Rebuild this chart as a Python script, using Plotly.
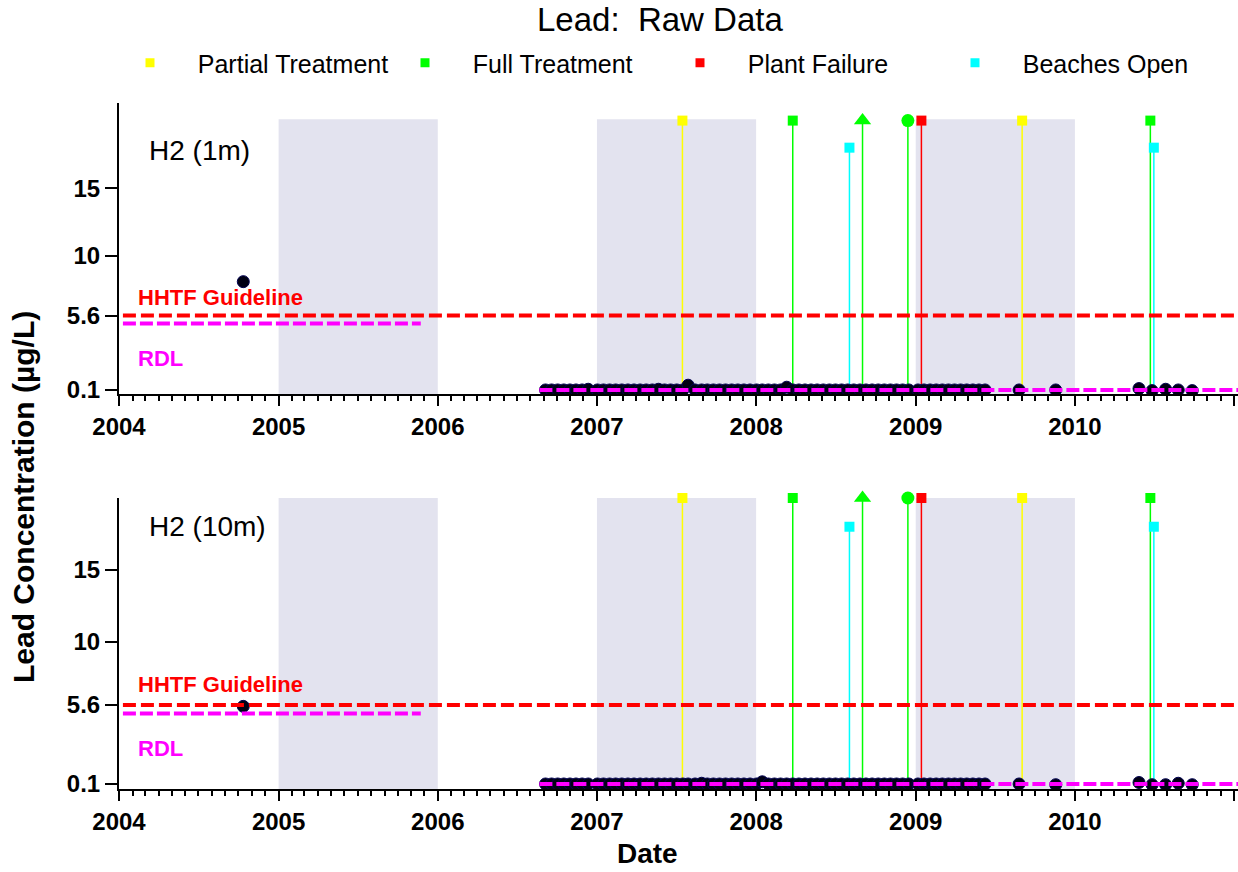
import plotly.graph_objects as go

# sample dates shared by both depths
sample_dates = [
    "2004-10-12",
    "2006-09-05", "2006-09-19", "2006-10-03", "2006-10-17", "2006-10-31", "2006-11-14", "2006-11-28", "2006-12-12",
    "2007-01-02", "2007-01-16", "2007-01-30", "2007-02-13", "2007-02-27", "2007-03-13", "2007-03-27", "2007-04-10",
    "2007-04-24", "2007-05-08", "2007-05-22", "2007-06-05", "2007-06-19", "2007-07-03", "2007-07-17", "2007-07-29",
    "2007-08-14", "2007-08-29", "2007-09-11", "2007-09-25", "2007-10-09", "2007-10-23", "2007-11-06", "2007-11-20",
    "2007-12-04", "2007-12-18",
    "2008-01-02", "2008-01-15", "2008-01-29", "2008-02-12", "2008-02-26", "2008-03-11", "2008-03-25", "2008-04-08",
    "2008-04-22", "2008-05-06", "2008-05-20", "2008-06-03", "2008-06-17", "2008-07-01", "2008-07-15", "2008-07-29",
    "2008-08-12", "2008-08-26", "2008-09-09", "2008-09-23", "2008-10-07", "2008-10-21", "2008-11-04", "2008-11-18",
    "2008-12-02", "2008-12-16",
    "2009-01-06", "2009-01-20", "2009-02-03", "2009-02-17", "2009-03-03", "2009-03-17", "2009-03-31", "2009-04-14",
    "2009-04-28", "2009-05-12", "2009-05-26", "2009-06-09",
    "2009-08-26", "2009-11-18", "2010-05-28", "2010-06-27", "2010-07-28", "2010-08-26", "2010-09-27",
]

lead_1m = [
    8.1,
    0.1, 0.1, 0.1, 0.1, 0.1, 0.1, 0.1, 0.15,
    0.1, 0.1, 0.1, 0.1, 0.1, 0.1, 0.1, 0.1,
    0.1, 0.1, 0.15, 0.1, 0.1, 0.1, 0.1, 0.45,
    0.1, 0.1, 0.1, 0.1, 0.1, 0.1, 0.1, 0.1,
    0.1, 0.1,
    0.1, 0.1, 0.1, 0.1, 0.1, 0.3, 0.1, 0.1,
    0.1, 0.1, 0.1, 0.1, 0.1, 0.1, 0.1, 0.1,
    0.1, 0.1, 0.1, 0.1, 0.1, 0.1, 0.1, 0.1,
    0.1, 0.1,
    0.1, 0.1, 0.1, 0.1, 0.1, 0.1, 0.1, 0.1,
    0.1, 0.1, 0.1, 0.1,
    0.1, 0.1, 0.2, 0.05, 0.15, 0.1, 0.05,
]

lead_10m = [
    5.5,
    0.1, 0.1, 0.1, 0.1, 0.1, 0.1, 0.1, 0.1,
    0.1, 0.1, 0.1, 0.1, 0.1, 0.1, 0.1, 0.1,
    0.1, 0.1, 0.1, 0.1, 0.1, 0.1, 0.1, 0.1,
    0.1, 0.15, 0.1, 0.1, 0.1, 0.1, 0.1, 0.1,
    0.1, 0.1,
    0.1, 0.25, 0.1, 0.1, 0.1, 0.1, 0.1, 0.1,
    0.1, 0.1, 0.1, 0.1, 0.1, 0.1, 0.1, 0.1,
    0.1, 0.1, 0.1, 0.1, 0.1, 0.1, 0.1, 0.1,
    0.1, 0.1,
    0.1, 0.1, 0.1, 0.1, 0.1, 0.1, 0.1, 0.1,
    0.1, 0.1, 0.1, 0.1,
    0.1, 0.05, 0.2, 0.05, 0.05, 0.15, 0.05,
]

# treatment / plant events
partial_dates = ["2007-07-16", "2009-09-02"]
full_dates = ["2008-03-25", "2010-06-23"]
full_tri_dates = ["2008-09-01"]
full_circle_dates = ["2008-12-14"]
failure_dates = ["2009-01-14"]
beach_dates = ["2008-08-02", "2010-07-01"]
event_level = 20
beach_level = 18

shade_periods = [("2005-01-01", "2006-01-01"), ("2007-01-01", "2008-01-01"), ("2009-01-01", "2010-01-01")]

hhtf_level = 5.6
hhtf_span = ("2004-01-10", "2011-01-10")
rdl_old = 5.0
rdl_old_span = ("2004-01-10", "2005-11-23")
rdl_new = 0.1
rdl_new_span = ("2006-08-22", "2011-01-10")

y_ticks = [0.1, 5.6, 10, 15]
y_ticktext = ["0.1", "5.6", "10", "15"]
panel_labels = ["H2 (1m)", "H2 (10m)"]

W, H = 1238, 872
L = 119
PW = W - L
FONT = "Liberation Sans, Arial, sans-serif"
SHADE = "#e3e3ef"
YEL, GRN, RED, CYN, MAG = "#ffff00", "#00ff00", "#ff0000", "#00ffff", "#ff00ff"


def py(page_y):
    return 1 - page_y / H


def px(page_x):
    return (page_x - L) / PW


fig = go.Figure()

panels = [
    dict(xa="x", ya="y", vals=lead_1m, label=panel_labels[0], yrange=[-0.2, 21.3], dom=[py(394), py(103)],
         lab_y=17.8, hhtf_y=6.96, rdl_y=2.46),
    dict(xa="x2", ya="y2", vals=lead_10m, label=panel_labels[1], yrange=[-0.25, 20.0], dom=[py(789), py(498)],
         lab_y=18.0, hhtf_y=7.0, rdl_y=2.6),
]


def stems(p, dates, level, color):
    xs, ys = [], []
    for d in dates:
        xs += [d, d, None]
        ys += [0, level, None]
    fig.add_trace(go.Scatter(x=xs, y=ys, mode="lines", line=dict(color=color, width=1.5),
                             xaxis=p["xa"], yaxis=p["ya"], showlegend=False, hoverinfo="skip"))


def tops(p, dates, level, color, symbol, size):
    fig.add_trace(go.Scatter(x=dates, y=[level] * len(dates), mode="markers", cliponaxis=False,
                             marker=dict(symbol=symbol, size=size, color=color, line=dict(width=0)),
                             xaxis=p["xa"], yaxis=p["ya"], showlegend=False, hoverinfo="skip"))


def hline(p, span, level, color, dash):
    fig.add_trace(go.Scatter(x=list(span), y=[level, level], mode="lines",
                             line=dict(color=color, width=4, dash=dash),
                             xaxis=p["xa"], yaxis=p["ya"], showlegend=False, hoverinfo="skip"))


for p in panels:
    for d0, d1 in shade_periods:
        fig.add_shape(type="rect", xref=p["xa"], yref=p["ya"], x0=d0, x1=d1, y0=p["yrange"][0], y1=20.1,
                      fillcolor=SHADE, line_width=0, layer="below")

    stems(p, partial_dates, event_level, YEL)
    stems(p, full_dates + full_tri_dates + full_circle_dates, event_level, GRN)
    stems(p, failure_dates, event_level, RED)
    stems(p, beach_dates, beach_level, CYN)
    tops(p, partial_dates, event_level, YEL, "square", 10)
    tops(p, full_dates, event_level, GRN, "square", 10)
    tops(p, full_tri_dates, event_level, GRN, "triangle-up", 15)
    tops(p, full_circle_dates, event_level, GRN, "circle", 13)
    tops(p, failure_dates, event_level, RED, "square", 10)
    tops(p, beach_dates, beach_level, CYN, "square", 10)

    fig.add_trace(go.Scatter(x=sample_dates, y=p["vals"], mode="markers",
                             marker=dict(symbol="circle", size=12, color="#000014",
                                         line=dict(color="#000050", width=1)),
                             xaxis=p["xa"], yaxis=p["ya"], showlegend=False, name=p["label"]))

    hline(p, hhtf_span, hhtf_level, RED, "13px,5px")
    hline(p, rdl_old_span, rdl_old, MAG, "13px,4px")
    hline(p, rdl_new_span, rdl_new, MAG, "13px,4px")

    fig.add_annotation(text=p["label"], xref=p["xa"] + " domain", yref=p["ya"], x=px(147), y=p["lab_y"],
                       xanchor="left", yanchor="middle", showarrow=False,
                       font=dict(family=FONT, size=28, color="black"))
    fig.add_annotation(text="HHTF Guideline", xref=p["xa"] + " domain", yref=p["ya"], x=px(136),
                       y=p["hhtf_y"], xanchor="left", yanchor="middle", showarrow=False,
                       font=dict(family=FONT, size=22, color=RED, weight="bold"))
    fig.add_annotation(text="RDL", xref=p["xa"] + " domain", yref=p["ya"], x=px(136),
                       y=p["rdl_y"], xanchor="left", yanchor="middle", showarrow=False,
                       font=dict(family=FONT, size=22, color=MAG, weight="bold"))

# legend entries
GAP = "\u00a0" * 4
for name, color in [("Partial Treatment", YEL), ("Full Treatment", GRN), ("Plant Failure", RED),
                    ("Beaches Open", CYN)]:
    fig.add_trace(go.Scatter(x=[None], y=[None], mode="markers", name=GAP + name,
                             marker=dict(symbol="square", size=9, color=color)))

xaxis_common = dict(
    type="date", range=["2004-01-01", "2011-01-10"], tickmode="linear", tick0="2004-01-01", dtick="M12",
    tickformat="%Y", ticks="outside", ticklen=10, tickwidth=2, tickcolor="black",
    minor=dict(ticks="outside", ticklen=5, tickwidth=1.5, tickcolor="black", dtick="M1"),
    showline=True, linewidth=2, linecolor="black", showgrid=False, zeroline=False,
    tickfont=dict(family=FONT, size=24, color="black", weight="bold"), automargin=False,
)
yaxis_common = dict(
    tickmode="array", tickvals=y_ticks, ticktext=y_ticktext, ticks="outside", ticklen=12, tickwidth=1.5,
    tickcolor="black", showline=True, linewidth=2, linecolor="black", showgrid=False, zeroline=False,
    tickfont=dict(family=FONT, size=24, color="black", weight="bold"), automargin=False,
)

fig.update_layout(
    width=W, height=H,
    margin=dict(l=L, r=0, t=0, b=0, pad=0),
    paper_bgcolor="white", plot_bgcolor="white",
    xaxis=dict(xaxis_common, domain=[0, 1], anchor="y"),
    xaxis2=dict(xaxis_common, domain=[0, 1], anchor="y2"),
    yaxis=dict(yaxis_common, domain=panels[0]["dom"], range=panels[0]["yrange"], anchor="x"),
    yaxis2=dict(yaxis_common, domain=panels[1]["dom"], range=panels[1]["yrange"], anchor="x2"),
    showlegend=True,
    legend=dict(orientation="h", x=px(130), xanchor="left", y=py(63), yanchor="middle",
                entrywidth=230, entrywidthmode="pixels", itemsizing="trace", bgcolor="rgba(0,0,0,0)",
                font=dict(family=FONT, size=25, color="black")),
)

fig.add_annotation(text="Lead:  Raw Data", xref="paper", yref="paper", x=px(660), y=py(19),
                   xanchor="center", yanchor="middle", showarrow=False,
                   font=dict(family=FONT, size=33, color="black"))
fig.add_annotation(text="Lead Concentration (µg/L)", xref="paper", yref="paper", x=px(23),
                   y=py(497), xanchor="center", yanchor="middle", textangle=-90, showarrow=False,
                   font=dict(family=FONT, size=30, color="black", weight="bold"))
fig.add_annotation(text="Date", xref="paper", yref="paper", x=px(647), y=py(853),
                   xanchor="center", yanchor="middle", showarrow=False,
                   font=dict(family=FONT, size=28, color="black", weight="bold"))

# drop the default 8px page margin so the figure fills the window
fig.write_html("out.html", config={"displayModeBar": False},
               post_script="document.body.style.margin='0px';")
